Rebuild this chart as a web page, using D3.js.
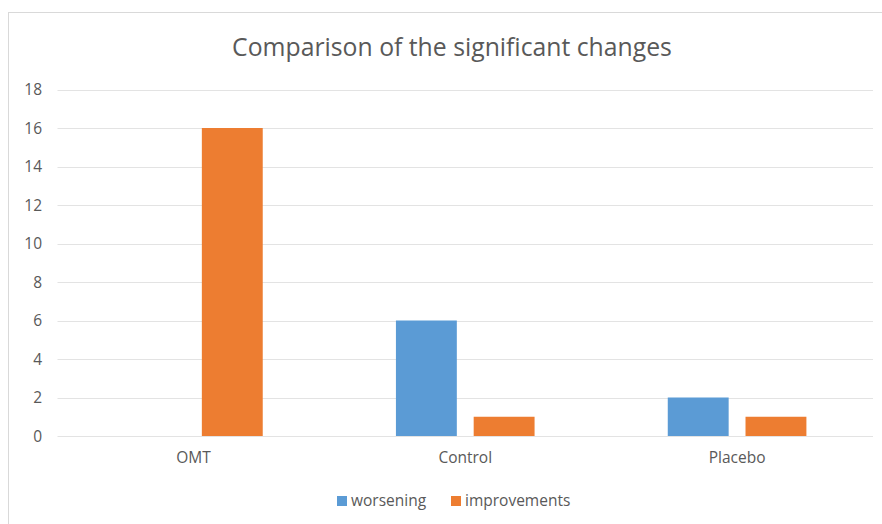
<!DOCTYPE html>
<html>
<head>
<meta charset="utf-8">
<script src="https://cdn.jsdelivr.net/npm/d3@7"></script>
<style>
  html, body { margin: 0; padding: 0; background: #fff; }
  svg { display: block; }
  text { font-family: "Open Sans", "Noto Sans", sans-serif; fill: #595959; }
</style>
</head>
<body>
<svg id="chart" width="882" height="524"></svg>
<script>
const categories = ["OMT", "Control", "Placebo"];
const seriesNames = ["worsening", "improvements"];
const worsening = [0, 6, 2];
const improvements = [16, 1, 1];
const yTicks = [0, 2, 4, 6, 8, 10, 12, 14, 16, 18];
const title = "Comparison of the significant changes";
const colors = ["#5B9BD5", "#ED7D31"];

const series = [worsening, improvements];
const svg = d3.select("#chart");

// fit a text element's font size to a target width
function fitWidth(sel, target) {
  const fs = parseFloat(sel.attr("font-size"));
  const w = sel.node().getComputedTextLength();
  sel.attr("font-size", fs * target / w);
}

// chart border
svg.append("rect")
  .attr("x", 8.5).attr("y", 12.5)
  .attr("width", 1000).attr("height", 1000)
  .attr("fill", "#fff")
  .attr("stroke", "#d9d9d9").attr("stroke-width", 1);

const plot = { left: 57.5, right: 873, top: 89.5, bottom: 436 };

const x = d3.scaleBand().domain(categories).range([plot.left, plot.right]).paddingInner(0).paddingOuter(0);
const y = d3.scaleLinear().domain([0, 18]).range([plot.bottom, plot.top]);

const bw = x.bandwidth();
const barW = bw * 0.224;
const gap = bw * 0.062;
const x1 = d3.scaleOrdinal().domain(seriesNames)
  .range([bw / 2 - gap / 2 - barW, bw / 2 + gap / 2]);

// gridlines
svg.append("g")
  .selectAll("line")
  .data(yTicks)
  .join("line")
  .attr("x1", plot.left).attr("x2", plot.right)
  .attr("y1", d => Math.round(y(d)) + 0.5).attr("y2", d => Math.round(y(d)) + 0.5)
  .attr("stroke", "#e3e3e3").attr("stroke-width", 1.2);

const labelFont = 15.5;

// y axis labels
const yAxis = d3.axisLeft(y).tickValues(yTicks).tickSize(0).tickPadding(0);
const gy = svg.append("g").attr("transform", `translate(42,0)`).call(yAxis);
gy.select(".domain").remove();
gy.selectAll("text").attr("font-size", labelFont).attr("fill", "#595959")
  .style("font-family", '"Open Sans", sans-serif').attr("dy", "0.35em");

// x axis labels
const xAxis = d3.axisBottom(x).tickSize(0).tickPadding(0);
const gx = svg.append("g").attr("transform", `translate(0,${plot.bottom + 16})`).call(xAxis);
gx.select(".domain").remove();
gx.selectAll("text").attr("font-size", labelFont).attr("fill", "#595959")
  .style("font-family", '"Open Sans", sans-serif').attr("dy", "0.71em");

// bars
const groups = svg.append("g").selectAll("g")
  .data(categories)
  .join("g")
  .attr("transform", c => `translate(${x(c)},0)`);

groups.selectAll("rect")
  .data((c, i) => seriesNames.map((s, k) => ({ s, k, v: series[k][i] })))
  .join("rect")
  .filter(d => d.v > 0)
  .attr("x", d => x1(d.s))
  .attr("width", barW)
  .attr("y", d => y(d.v))
  .attr("height", d => y(0) - y(d.v))
  .attr("fill", (d) => colors[d.k]);

// title
const t = svg.append("text")
  .attr("x", 452).attr("y", 56)
  .attr("text-anchor", "middle")
  .attr("font-size", 22)
  .text(title);
fitWidth(t, 440);

// legend
const legendItems = [
  { name: seriesNames[0], color: colors[0], x: 337 },
  { name: seriesNames[1], color: colors[1], x: 451 }
];
const lg = svg.append("g");
legendItems.forEach(li => {
  lg.append("rect").attr("x", li.x).attr("y", 496).attr("width", 10).attr("height", 10).attr("fill", li.color);
  lg.append("text").attr("x", li.x + 14).attr("y", 501).attr("dy", "0.35em")
    .attr("font-size", labelFont).text(li.name);
});
</script>
</body>
</html>
